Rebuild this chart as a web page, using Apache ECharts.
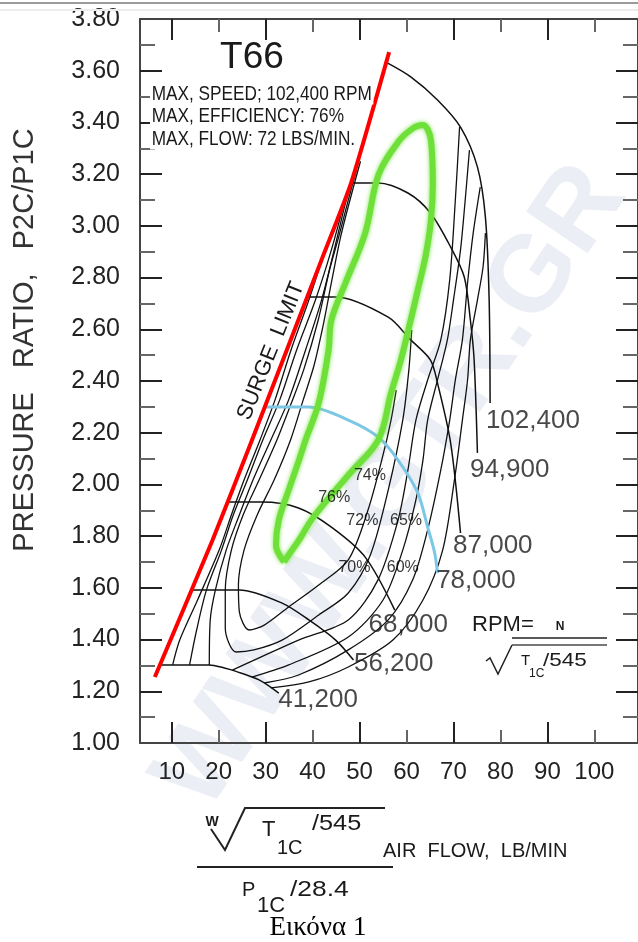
<!DOCTYPE html>
<html>
<head>
<meta charset="utf-8">
<title>T66 compressor map</title>
<script src="https://cdn.jsdelivr.net/npm/echarts@6.0.0/dist/echarts.min.js"></script>
<style>
  html, body { margin: 0; padding: 0; background: #fff; }
  #chart { width: 638px; height: 942px; }
</style>
</head>
<body>
<div id="chart"></div>
<script>
// axis ticks / labels
const xLabels = [10, 20, 30, 40, 50, 60, 70, 80, 90, 100];
const xMajorTicks = [10, 30, 50, 70, 90];
const xMinorTicks = [20, 40, 60, 80, 100];
const yLabels = [1.0, 1.2, 1.4, 1.6, 1.8, 2.0, 2.2, 2.4, 2.6, 2.8, 3.0, 3.2, 3.4, 3.6, 3.8];
const yMajorTicks = [1.2, 1.4, 1.6, 1.8, 2.0, 2.2, 2.4, 2.6, 2.8, 3.0, 3.2, 3.4, 3.6];
const yMinorTicks = [1.1, 1.3, 1.5, 1.7, 1.9, 2.1, 2.3, 2.5, 2.7, 2.9, 3.1, 3.3, 3.5, 3.7];

// surge limit (flow, pressure ratio)
const surgeLimit = [[6.4, 1.255], [18.7, 1.785], [27.1, 2.172], [41.9, 2.868], [48.2, 3.166], [56.3, 3.672]];

// speed lines
const speed41200 = [[7.5, 1.302], [18.0, 1.302], [21.2, 1.290], [23.7, 1.277], [28.6, 1.244], [32.8, 1.193]];
const speed56200 = [[14.2, 1.592], [24.4, 1.592], [33.5, 1.541], [39.2, 1.476], [44.9, 1.398], [48.7, 1.321]];
const speed68000 = [[21.9, 1.932], [29.2, 1.932], [37.0, 1.909], [44.0, 1.835], [51.2, 1.719], [57.5, 1.514]];
const speed78000 = [[29.8, 2.299], [39.2, 2.299], [47.6, 2.249], [54.0, 2.183], [58.2, 2.094], [62.4, 1.967], [64.5, 1.835], [66.0, 1.735], [66.6, 1.657]];
const speed87000 = [[38.9, 2.725], [44.9, 2.725], [56.1, 2.647], [60.9, 2.559], [65.1, 2.481], [66.6, 2.392], [69.4, 2.160], [71.5, 1.812]];
const speed94900 = [[48.2, 3.166], [53.9, 3.166], [60.3, 3.127], [65.1, 3.050], [69.4, 2.918], [72.3, 2.802], [73.6, 2.636], [74.4, 2.481], [75.1, 2.122]];
const speed102400 = [[55.9, 3.630], [60.9, 3.576], [66.6, 3.487], [71.5, 3.382], [75.1, 3.228], [76.8, 3.034], [77.6, 2.713], [77.8, 2.315]];

// efficiency contours (inner -> outer), cut ones split in left / right arms
const eff1 = [[50.2, 3.250], [48.4, 3.130], [46.0, 2.960], [44.0, 2.780], [42.3, 2.620], [40.3, 2.460], [38.0, 2.327], [35.3, 2.172], [31.8, 2.017], [28.2, 1.882], [25.4, 1.746], [24.2, 1.611], [24.4, 1.507], [26.5, 1.437], [29.7, 1.456], [34.9, 1.526], [41.3, 1.611], [47.6, 1.708], [51.8, 1.901], [55.0, 2.114], [56.7, 2.249], [57.8, 2.365]];
const eff2 = [[49.4, 3.220], [47.6, 3.100], [45.6, 2.960], [43.6, 2.829], [41.2, 2.636], [38.1, 2.443], [34.9, 2.288], [32.4, 2.172], [28.6, 2.017], [25.2, 1.882], [22.7, 1.746], [21.4, 1.592], [21.4, 1.445], [23.7, 1.352], [27.5, 1.360], [33.5, 1.398], [41.3, 1.495], [47.6, 1.580], [52.3, 1.727], [56.1, 1.978], [59.2, 2.249], [60.5, 2.443], [61.1, 2.597]];
const eff3Left = [[48.6, 3.190], [46.9, 3.081], [44.6, 2.907], [41.9, 2.713], [38.5, 2.520], [34.9, 2.327], [31.1, 2.172], [27.3, 2.017], [24.4, 1.882], [21.6, 1.746], [19.3, 1.592], [18.2, 1.476], [18.0, 1.302]];
const eff3Right = [[22.9, 1.282], [28.6, 1.329], [37.0, 1.398], [47.6, 1.476], [53.9, 1.630], [58.2, 1.862], [60.3, 2.056], [62.0, 2.249], [64.5, 2.404], [67.3, 2.559], [69.2, 2.791], [70.4, 3.100], [71.3, 3.382]];
const eff4Left = [[46.6, 3.081], [44.0, 2.907], [40.6, 2.713], [36.6, 2.520], [33.0, 2.327], [29.4, 2.172], [26.1, 2.017], [23.1, 1.882], [20.6, 1.746], [17.4, 1.592], [15.3, 1.437], [13.8, 1.302]];
const eff4Right = [[27.1, 1.255], [34.9, 1.302], [47.6, 1.410], [55.0, 1.553], [59.2, 1.746], [62.0, 1.940], [63.5, 2.094], [64.5, 2.249], [66.6, 2.404], [68.7, 2.559], [70.0, 2.713], [71.5, 2.907], [72.5, 3.100], [73.4, 3.293]];
const eff5Left = [[42.3, 2.887], [39.2, 2.713], [35.4, 2.520], [32.0, 2.327], [28.8, 2.172], [25.4, 2.017], [22.7, 1.882], [20.1, 1.746], [15.5, 1.553], [11.7, 1.398], [10.2, 1.302]];
const eff5Right = [[29.7, 1.232], [37.0, 1.263], [47.6, 1.360], [56.1, 1.476], [61.3, 1.630], [64.5, 1.824], [67.3, 2.056], [69.2, 2.249], [70.4, 2.404], [71.9, 2.559], [73.0, 2.779], [74.2, 2.972], [75.7, 3.150]];
const eff6Right = [[31.1, 1.213], [39.2, 1.236], [47.6, 1.294], [57.1, 1.398], [63.5, 1.553], [67.7, 1.746], [70.2, 2.017], [71.9, 2.249], [73.0, 2.404], [73.6, 2.559], [75.1, 2.713], [76.3, 2.841], [76.8, 2.972]];

// hand drawn green highlight
const greenLoop = [[33.9, 1.700], [32.2, 1.766], [32.8, 1.862], [34.9, 1.978], [37.1, 2.094], [38.5, 2.172], [41.3, 2.315], [43.4, 2.520], [44.0, 2.636], [47.0, 2.779], [51.2, 2.972], [54.0, 3.196], [58.2, 3.324], [61.4, 3.378], [63.5, 3.390], [65.2, 3.332], [65.6, 3.158], [65.2, 3.022], [64.1, 2.887], [62.4, 2.752], [60.9, 2.636], [58.8, 2.481], [56.7, 2.353], [54.0, 2.172], [47.6, 2.036], [40.2, 1.874], [37.1, 1.785], [34.9, 1.727], [33.9, 1.700]];

// labels: text, flow, pressure ratio
const speedLabels = [['102,400', 76.8, 2.245], ['94,900', 73.4, 2.056], ['87,000', 69.8, 1.762], ['78,000', 66.2, 1.627], ['68,000', 51.8, 1.456], ['56,200', 48.7, 1.306], ['41,200', 32.6, 1.166]];
const effLabels = [['76%', 44.6, 1.951], ['74%', 52.2, 2.036], ['72%', 50.6, 1.859], ['65%', 59.9, 1.859], ['70%', 48.9, 1.677], ['60%', 59.2, 1.677]];

const FONT = '"Liberation Sans", Arial, sans-serif';
const X_MIN = 3.24, X_MAX = 109.3;

const chart = echarts.init(document.getElementById('chart'));

function curve(data, color, width, z) {
  return {
    type: 'line', data: data, showSymbol: false, symbol: 'none', smooth: 0.3,
    lineStyle: { color: color, width: width }, silent: true, z: z || 2
  };
}

function xAxisDef(position, ticks, len, showLine, showLabels) {
  return {
    type: 'value', position: position, min: X_MIN, max: X_MAX,
    axisLine: { show: showLine, onZero: false, lineStyle: { color: '#444', width: 2 } },
    axisTick: { show: true, inside: true, length: len, customValues: ticks, lineStyle: { color: len > 15 ? '#222' : '#666', width: 2 } },
    axisLabel: { show: showLabels, customValues: xLabels, margin: 17, fontSize: 24, color: '#222', fontFamily: FONT },
    splitLine: { show: false }
  };
}

function yAxisDef(position, ticks, len, showLine, showLabels) {
  return {
    type: 'value', position: position, min: 1, max: 3.8,
    axisLine: { show: showLine, onZero: false, lineStyle: { color: '#444', width: 2 } },
    axisTick: { show: true, inside: true, length: len, customValues: ticks, lineStyle: { color: len > 18 ? '#222' : '#666', width: 2 } },
    axisLabel: { show: showLabels, customValues: yLabels, margin: 20, fontSize: 25, color: '#222', fontFamily: FONT, formatter: v => v.toFixed(2) },
    splitLine: { show: false }
  };
}

// text element helper for the annotations drawn on the page
function txt(x, y, text, font, extra) {
  const e = extra || {};
  const el = Object.assign({ type: 'text', x: x, y: y, z: 10 }, e);
  el.style = Object.assign({ text: text, font: font, fill: '#1a1a1a', verticalAlign: 'middle' }, e.style || {});
  return el;
}

const graphics = [
  { type: 'line', z: 10, shape: { x1: 0, y1: 3, x2: 638, y2: 3 }, style: { stroke: '#9b9b9b', lineWidth: 2 } },
  { type: 'line', z: 10, shape: { x1: 0, y1: 10, x2: 638, y2: 10 }, style: { stroke: '#ececec', lineWidth: 2 } },
  // watermark
  { type: 'text', x: 392, y: 488, rotation: 55.8 * Math.PI / 180, z: 0,
    style: { text: 'WWW.GTR.GR', font: 'bold 108px ' + FONT, fill: '#eceef6', align: 'center', verticalAlign: 'middle' } },
  // title block
  txt(252, 58, 'T66', '37px ' + FONT, { style: { align: 'center' } }),
  txt(150, 94, 'MAX, SPEED; 102,400 RPM', '21px ' + FONT, { scaleX: 0.82, style: { backgroundColor: '#fff', padding: [0, 2] } }),
  txt(150, 116, 'MAX, EFFICIENCY: 76%', '21px ' + FONT, { scaleX: 0.82, style: { backgroundColor: '#fff', padding: [0, 2] } }),
  txt(150, 139, 'MAX, FLOW: 72 LBS/MIN.', '21px ' + FONT, { scaleX: 0.82, style: { backgroundColor: '#fff', padding: [0, 2] } }),
  // y axis name
  txt(25, 340, 'PRESSURE   RATIO,   P2C/P1C', '29px ' + FONT, { rotation: Math.PI / 2, style: { align: 'center', fill: '#333' } }),
  // surge limit text
  txt(271, 351, 'SURGE  LIMIT', '22px ' + FONT, { rotation: 68 * Math.PI / 180, style: { align: 'center' } }),
  // corrected speed formula
  txt(472, 625, 'RPM=', '22px ' + FONT),
  txt(560, 627, 'N', 'bold 12px ' + FONT, { style: { align: 'center' } }),
  { type: 'line', z: 10, shape: { x1: 512, y1: 638, x2: 607, y2: 638 }, style: { stroke: '#222', lineWidth: 1.5 } },
  { type: 'line', z: 10, shape: { x1: 512, y1: 645, x2: 607, y2: 645 }, style: { stroke: '#777', lineWidth: 2 } },
  { type: 'polyline', z: 10, shape: { points: [[486, 661], [490, 658], [498, 674], [512, 645]] }, style: { stroke: '#222', lineWidth: 1.5, fill: null } },
  txt(521, 661, 'T', '15px ' + FONT),
  txt(529, 674, '1C', '12px ' + FONT),
  txt(543, 661, '/545', '18px ' + FONT, { scaleX: 1.25 }),
  // corrected flow formula
  txt(212, 822, 'W', 'bold 14px ' + FONT, { style: { align: 'center' } }),
  { type: 'polyline', z: 10, shape: { points: [[211, 829], [225, 850], [245, 808], [385, 808]] }, style: { stroke: '#222', lineWidth: 2, fill: null } },
  txt(262, 830, 'T', '22px ' + FONT),
  txt(277, 848, '1C', '20px ' + FONT),
  txt(312, 824, '/545', '22px ' + FONT, { scaleX: 1.15 }),
  txt(383, 851, 'AIR  FLOW,  LB/MIN', '20px ' + FONT),
  { type: 'line', z: 10, shape: { x1: 197, y1: 867, x2: 393, y2: 867 }, style: { stroke: '#222', lineWidth: 2 } },
  txt(242, 890, 'P', '20px ' + FONT),
  txt(257, 906, '1C', '22px ' + FONT),
  txt(290, 890, '/28.4', '22px ' + FONT, { scaleX: 1.2 }),
  // caption
  txt(318, 928, 'Εικόνα 1', '27px "Liberation Serif", "Times New Roman", serif', { style: { align: 'center', fill: '#000' } })
];

const option = {
  animation: false,
  backgroundColor: '#fff',
  grid: { left: 140, top: 19, width: 502, height: 724, containLabel: false },
  xAxis: [
    xAxisDef('bottom', xMajorTicks, 21, true, true),
    xAxisDef('bottom', xMinorTicks, 13, false, false),
    xAxisDef('top', xMajorTicks, 21, true, false),
    xAxisDef('top', xMinorTicks, 13, false, false)
  ],
  yAxis: [
    yAxisDef('left', yMajorTicks, 22, true, true),
    yAxisDef('left', yMinorTicks, 15, false, false),
    yAxisDef('right', yMajorTicks, 22, true, false),
    yAxisDef('right', yMinorTicks, 15, false, false)
  ],
  graphic: graphics,
  series: [
    curve(eff1, '#111', 1.3),
    curve(eff2, '#111', 1.3),
    curve(eff3Left, '#111', 1.3),
    curve(eff3Right, '#111', 1.3),
    curve(eff4Left, '#111', 1.3),
    curve(eff4Right, '#111', 1.3),
    curve(eff5Left, '#111', 1.3),
    curve(eff5Right, '#111', 1.3),
    curve(eff6Right, '#111', 1.3),
    curve(speed41200, '#111', 1.5),
    curve(speed56200, '#111', 1.5),
    curve(speed68000, '#111', 1.5),
    curve(speed78000, '#7cc6e6', 3, 3),
    curve(speed87000, '#111', 1.5),
    curve(speed94900, '#111', 1.5),
    curve(speed102400, '#111', 1.5),
    {
      type: 'line', data: greenLoop, showSymbol: false, symbol: 'none', smooth: 0.35, silent: true, z: 4,
      lineStyle: { color: '#6fe03a', width: 6, shadowBlur: 4, shadowColor: 'rgba(110,224,58,0.9)' }
    },
    {
      type: 'line', data: surgeLimit, showSymbol: false, symbol: 'none', smooth: 0.2, silent: true, z: 5,
      lineStyle: { color: '#ff0000', width: 4 }
    },
    {
      type: 'scatter', data: speedLabels.map(d => [d[1], d[2], d[0]]), symbolSize: 1, silent: true, z: 6,
      itemStyle: { color: 'rgba(0,0,0,0)' },
      label: { show: true, position: 'right', distance: 0, formatter: p => p.value[2], fontSize: 26, color: '#1a1a1a', fontFamily: FONT }
    },
    {
      type: 'scatter', data: effLabels.map(d => [d[1], d[2], d[0]]), symbolSize: 1, silent: true, z: 6,
      itemStyle: { color: 'rgba(0,0,0,0)' },
      label: { show: true, position: 'inside', formatter: p => p.value[2], fontSize: 16, color: '#000', fontFamily: FONT }
    }
  ]
};

chart.setOption(option);
</script>
</body>
</html>
